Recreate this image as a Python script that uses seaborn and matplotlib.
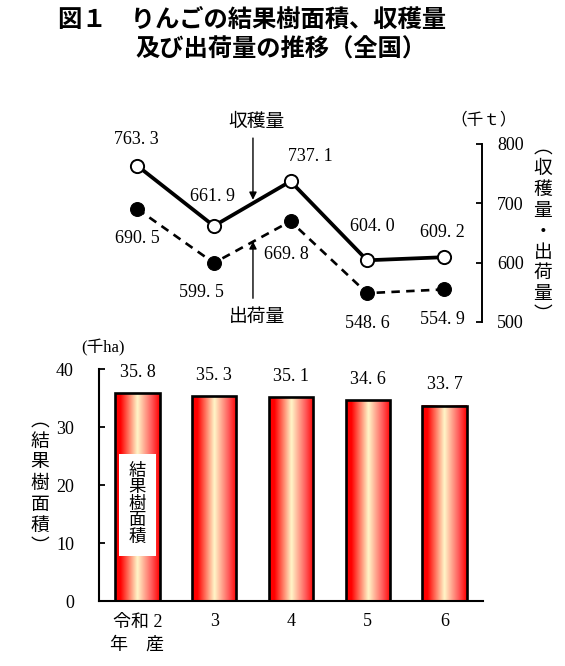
import numpy as np
import pandas as pd
import matplotlib
matplotlib.use("Agg")
import matplotlib.pyplot as plt
from matplotlib.colors import LinearSegmentedColormap
import seaborn as sns

# データ
years = ["令和 2\n年　産", "3", "4", "5", "6"]
area = [35.8, 35.3, 35.1, 34.6, 33.7]          # 結果樹面積（千ha）
harvest = [763.3, 661.9, 737.1, 604.0, 609.2]  # 収穫量（千t）
shipment = [690.5, 599.5, 669.8, 548.6, 554.9] # 出荷量（千t）

# ラベルの位置ずらし（ポイント）
harvest_offsets = [(-1, 19), (-1, 21), (14, 18), (4, 24), (-1, 18)]
shipment_offsets = [(0, -21), (-9, -21), (-3, -24), (0, -22), (-1, -22)]

df = pd.DataFrame({"年産": years, "結果樹面積": area,
                   "収穫量": harvest, "出荷量": shipment})


def fmt(v):
    # 明朝体っぽく小数点の後ろを少し空ける
    return f"{v:.1f}".replace(".", ". ")


sns.set_theme(style="white")
plt.rcParams["font.family"] = ["Liberation Serif", "Noto Sans CJK JP"]
plt.rcParams["text.color"] = "black"

W, H = 565, 666
fig = plt.figure(figsize=(W / 100, H / 100), dpi=100)
ax_bar = fig.add_axes([99 / W, 65 / H, 384 / W, 232 / H])
ax_line = fig.add_axes([99 / W, 344 / H, 383 / W, 178 / H])

# ---- 折れ線（収穫量・出荷量）----
sns.lineplot(data=df, x="年産", y="収穫量", ax=ax_line, sort=False, color="black",
             lw=2.7, marker="o", markersize=9.5, markerfacecolor="white",
             markeredgecolor="black", markeredgewidth=1.4, zorder=3)
sns.lineplot(data=df, x="年産", y="出荷量", ax=ax_line, sort=False, color="black",
             lw=1.9, linestyle=(0, (3.2, 2.4)), marker="o", markersize=10,
             markerfacecolor="black", markeredgecolor="black", zorder=3)

for i, (v, off) in enumerate(zip(harvest, harvest_offsets)):
    ax_line.annotate(fmt(v), (i, v), xytext=off, textcoords="offset points",
                     ha="center", va="center", fontsize=13, annotation_clip=False)
for i, (v, off) in enumerate(zip(shipment, shipment_offsets)):
    ax_line.annotate(fmt(v), (i, v), xytext=off, textcoords="offset points",
                     ha="center", va="center", fontsize=13, annotation_clip=False)

arrow = dict(arrowstyle="-|>", color="black", lw=1.0, mutation_scale=11,
             shrinkA=0, shrinkB=0)
ax_line.annotate("", xy=(1.51, 706), xytext=(1.51, 810), arrowprops=arrow,
                 annotation_clip=False)
ax_line.annotate("", xy=(1.51, 636), xytext=(1.51, 540), arrowprops=arrow,
                 annotation_clip=False)
ax_line.text(1.56, 836, "収穫量", ha="center", va="center", fontsize=13.5, clip_on=False)
ax_line.text(1.56, 508, "出荷量", ha="center", va="center", fontsize=13.5, clip_on=False)

ax_line.set_xlim(-0.5, 4.5)
ax_line.set_ylim(500, 800)
ax_line.set_xticks([])
ax_line.set_yticks([500, 600, 700, 800])
ax_line.yaxis.tick_right()
ax_line.tick_params(axis="y", direction="in", length=4, width=1.3, pad=11,
                    labelsize=13, colors="black", right=True, left=False)
for s in ["left", "top", "bottom"]:
    ax_line.spines[s].set_visible(False)
ax_line.spines["right"].set_color("black")
ax_line.spines["right"].set_linewidth(1.4)
ax_line.set_xlabel("")
ax_line.set_ylabel("")
ax_line.patch.set_alpha(0)

# ---- 棒グラフ（結果樹面積）----
sns.barplot(data=df, x="年産", y="結果樹面積", ax=ax_bar, color="red", width=0.58,
            edgecolor="black", linewidth=1.9, errorbar=None)

grad = LinearSegmentedColormap.from_list(
    "apple", [(0.0, "#ff0000"), (0.12, "#ff0000"), (0.5, "#fff6c8"),
              (0.82, "#ff5a5a"), (1.0, "#ff0000")])
ramp = np.linspace(0, 1, 256).reshape(1, -1)
for p in ax_bar.patches:
    x0, y0 = p.get_x(), p.get_y()
    w, h = p.get_width(), p.get_height()
    ax_bar.imshow(ramp, cmap=grad, extent=[x0, x0 + w, y0, y0 + h],
                  aspect="auto", zorder=1.5, interpolation="bilinear")
    p.set_facecolor("none")
    p.set_zorder(2)

for i, v in enumerate(area):
    ax_bar.annotate(fmt(v), (i, v), xytext=(0, 15), textcoords="offset points",
                    ha="center", va="center", fontsize=13, annotation_clip=False)

ax_bar.text(0, 16.6, "結\n果\n樹\n面\n積", ha="center", va="center", fontsize=12.5,
            linespacing=1.05, zorder=4,
            bbox=dict(boxstyle="square,pad=0.55", fc="white", ec="none"))

ax_bar.set_xlim(-0.5, 4.5)
ax_bar.set_ylim(0, 40)
ax_bar.set_yticks([0, 10, 20, 30, 40])
ax_bar.tick_params(axis="y", direction="in", length=4, width=1.3, pad=18,
                   labelsize=13, colors="black", left=True)
ax_bar.tick_params(axis="x", length=0, pad=9, labelsize=13, colors="black")
ax_bar.get_xticklabels()[0].set_linespacing(1.5)
for s in ["right", "top"]:
    ax_bar.spines[s].set_visible(False)
for s in ["left", "bottom"]:
    ax_bar.spines[s].set_color("black")
    ax_bar.spines[s].set_linewidth(1.5)
ax_bar.set_xlabel("")
ax_bar.set_ylabel("")

# ---- 単位・軸タイトル ----
fig.text(103 / W, 1 - 348 / H, "(千ha)", ha="center", va="center", fontsize=12)
fig.text(484 / W, 1 - 120 / H, "（千ｔ）", ha="center", va="center", fontsize=12)
fig.text(40 / W, 1 - 484 / H, "︵\n結\n果\n樹\n面\n積\n︶", ha="center", va="center",
         fontsize=13.5, linespacing=1.3)
fig.text(543 / W, 1 - 232 / H, "︵\n収\n穫\n量\n・\n出\n荷\n量\n︶", ha="center",
         va="center", fontsize=13.5, linespacing=1.3)

# ---- タイトル ----
fig.text(58 / W, 1 - 20 / H, "図１　りんごの結果樹面積、収穫量", ha="left", va="center",
         fontsize=17.5, fontweight="bold", family=["Noto Sans CJK JP"])
fig.text(135 / W, 1 - 50 / H, "及び出荷量の推移（全国）", ha="left", va="center",
         fontsize=17.5, fontweight="bold", family=["Noto Sans CJK JP"])

fig.savefig("out.png", dpi=100)
